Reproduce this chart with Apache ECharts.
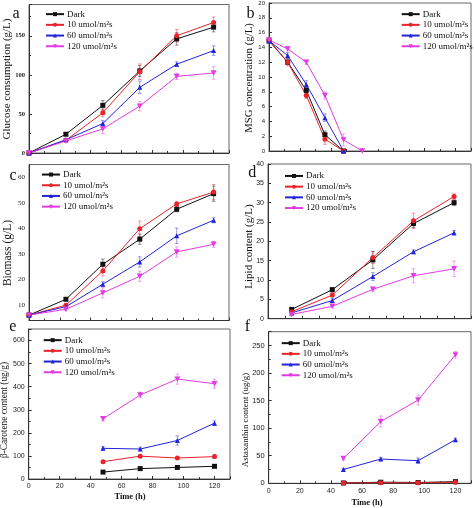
<!DOCTYPE html>
<html><head><meta charset="utf-8">
<script src="https://cdn.jsdelivr.net/npm/echarts@6/dist/echarts.min.js"></script>
<style>html,body{margin:0;padding:0;background:#fff}#c{width:474px;height:508px}</style>
</head><body><div id="c"></div>
<script>
// ---------- data ----------
const seriesNames = ['Dark', '10 umol/m\u00b2s', '60 umol/m\u00b2s', '120 umol/m\u00b2s'];

// (a) glucose consumption
const timeGlucose = [0, 24, 48, 72, 96, 120];
const glucoseDark = [0, 24, 61, 105, 146, 161];
const glucose10 = [0, 16.3, 51.4, 104, 150, 167];
const glucose60 = [0, 17, 37.7, 84, 113.6, 131];
const glucose120 = [0, 15.4, 30.9, 60, 98, 102.4];
const glucoseErrDark = [0, 1, 6, 7, 8, 6];
const glucoseErr10 = [0, 1, 5, 10, 8, 7];
const glucoseErr60 = [0, 1, 4, 8, 3, 6];
const glucoseErr120 = [0, 1, 6, 6, 4, 8];

// (b) MSG concentration
const timeMSG = [0, 12, 24, 36, 48];
const timeMSG120 = [0, 12, 24, 36, 48, 60];
const msgDark = [14.9, 12.0, 8.2, 2.2, 0];
const msg10 = [15.0, 12.0, 7.5, 1.6, 0];
const msg60 = [14.9, 12.9, 9.0, 4.5, 0];
const msg120 = [15.0, 13.8, 12.0, 7.5, 1.5, 0];
const msgErrDark = [0.3, 0.3, 0.4, 0.5, 0];
const msgErr10 = [0.3, 0.5, 0.4, 0.7, 0];
const msgErr60 = [0.3, 0.4, 0.5, 0.5, 0.2];
const msgErr120 = [0.3, 0.3, 0.3, 0.5, 0.8, 0];

// (c) biomass
const timeBiomass = [0, 24, 48, 72, 96, 120];
const biomassDark = [6.1, 12.3, 26.0, 35.8, 47.5, 53.6];
const biomass10 = [6.1, 10.0, 23.4, 39.9, 49.6, 54.2];
const biomass60 = [6.1, 9.4, 18.2, 26.9, 37.1, 43.2];
const biomass120 = [6.1, 8.4, 14.8, 21.3, 30.8, 33.8];
const biomassErrDark = [0, 0.6, 2, 2, 1, 3];
const biomassErr10 = [0, 0.6, 2, 3, 1, 3];
const biomassErr60 = [0, 0.6, 1, 2, 3, 1];
const biomassErr120 = [0, 0.6, 2, 2, 2, 1.2];

// (d) lipid content
const timeLipid = [24, 48, 72, 96, 120];
const lipidDark = [2.4, 7.5, 15.2, 24.6, 30.0];
const lipid10 = [1.8, 6.1, 15.8, 25.3, 31.6];
const lipid60 = [1.5, 4.7, 10.9, 17.3, 22.2];
const lipid120 = [1.1, 3.2, 7.6, 11.1, 12.9];
const lipidErrDark = [0.3, 0.5, 2.2, 1, 0.7];
const lipidErr10 = [0.3, 0.5, 1.5, 2, 0.7];
const lipidErr60 = [0.3, 0.5, 1, 0.5, 0.6];
const lipidErr120 = [0.3, 0.4, 0.5, 1.8, 2];

// (e) beta-carotene content
const timePigment = [48, 72, 96, 120];
const caroteneDark = [30, 45, 50, 55];
const carotene10 = [75, 99, 91, 97];
const carotene60 = [133, 130, 167, 242];
const carotene120 = [261, 364, 433, 413];
const caroteneErrDark = [3, 4, 4, 4];
const caroteneErr10 = [5, 5, 5, 8];
const caroteneErr60 = [8, 8, 20, 10];
const caroteneErr120 = [10, 12, 22, 20];

// (f) astaxanthin content
const astaDark = [0.6, 2, 1.5, 3];
const asta10 = [0.4, 1, 0.8, 2];
const asta60 = [25, 44, 41, 79];
const asta120 = [45, 112, 151, 233];
const astaErrDark = [0.5, 0.5, 0.5, 0.5];
const astaErr10 = [0.5, 0.5, 0.5, 0.5];
const astaErr60 = [2, 3, 5, 3];
const astaErr120 = [3, 10, 9, 6];

// ---------- style ----------
const colors = ['#111111', '#e8232a', '#2323d8', '#e23be2'];
const errColors = ['rgba(17,17,17,0.45)', 'rgba(232,35,42,0.45)', 'rgba(35,35,216,0.45)', 'rgba(226,59,226,0.45)'];
const symbols = ['rect', 'circle', 'triangle', 'path://M0,0L10,0L5,9Z'];
const SERIF = '"Liberation Serif", "DejaVu Serif", serif';
const SANS = '"Liberation Sans", Arial, sans-serif';

const panels = [
  { grid: {left: 29, top: 4.5, width: 200, height: 148.5},
    x: {min: 0, max: 130, interval: 20, labels: false},
    y: {min: 0, max: 190, interval: 50, minor: 2, step: 50, font: {fontFamily: SERIF, fontWeight: 'bold', fontSize: 6.5}},
    times: [timeGlucose, timeGlucose, timeGlucose, timeGlucose],
    vals: [glucoseDark, glucose10, glucose60, glucose120],
    errs: [glucoseErrDark, glucoseErr10, glucoseErr60, glucoseErr120],
    legend: {left: 45, top: 8.8} },
  { grid: {left: 269, top: 2.7, width: 202, height: 148.3},
    x: {min: 0, max: 130, interval: 20, labels: false},
    y: {min: 0, max: 20, interval: 2, minor: 0, step: 2, font: {fontFamily: SANS, fontSize: 6}},
    times: [timeMSG, timeMSG, timeMSG, timeMSG120],
    vals: [msgDark, msg10, msg60, msg120],
    errs: [msgErrDark, msgErr10, msgErr60, msgErr120],
    legend: {left: 400.7, top: 8.8} },
  { grid: {left: 29, top: 164.5, width: 200, height: 156},
    x: {min: 0, max: 130, interval: 20, labels: false},
    y: {min: 4, max: 65, interval: 2, minor: 0, step: 10, noTick: true, font: {fontFamily: SERIF, fontSize: 7}},
    times: [timeBiomass, timeBiomass, timeBiomass, timeBiomass],
    vals: [biomassDark, biomass10, biomass60, biomass120],
    errs: [biomassErrDark, biomassErr10, biomassErr60, biomassErr120],
    legend: {left: 41, top: 169.2} },
  { grid: {left: 268, top: 164, width: 203, height: 154.7},
    x: {min: 10, max: 130, interval: 10, labels: false},
    y: {min: 0, max: 40, interval: 5, minor: 0, step: 5, font: {fontFamily: SANS, fontSize: 7}},
    times: [timeLipid, timeLipid, timeLipid, timeLipid],
    vals: [lipidDark, lipid10, lipid60, lipid120],
    errs: [lipidErrDark, lipidErr10, lipidErr60, lipidErr120],
    legend: {left: 284, top: 170.6} },
  { grid: {left: 28.7, top: 329, width: 201.3, height: 150},
    x: {min: 0, max: 130, interval: 20, labels: true},
    y: {min: 0, max: 650, interval: 100, minor: 2, step: 100, font: {fontFamily: SANS, fontSize: 7}},
    times: [timePigment, timePigment, timePigment, timePigment],
    vals: [caroteneDark, carotene10, carotene60, carotene120],
    errs: [caroteneErrDark, caroteneErr10, caroteneErr60, caroteneErr120],
    legend: {left: 42.7, top: 334.8} },
  { grid: {left: 268.7, top: 331.7, width: 204, height: 151.6},
    x: {min: 0, max: 130, interval: 20, labels: true},
    y: {min: 0, max: 275, interval: 50, minor: 2, step: 50, font: {fontFamily: SANS, fontSize: 7.5}},
    times: [timePigment, timePigment, timePigment, timePigment],
    vals: [astaDark, asta10, asta60, asta120],
    errs: [astaErrDark, astaErr10, astaErr60, astaErr120],
    legend: {left: 280.7, top: 337.8} }
];

function errRender(color) {
  return function (params, api) {
    const x = api.value(0), lo = api.value(1), hi = api.value(2);
    const p1 = api.coord([x, hi]), p2 = api.coord([x, lo]);
    const w = 1.8;
    const st = {stroke: color, lineWidth: 1};
    return {type: 'group', children: [
      {type: 'line', shape: {x1: p1[0], y1: p1[1], x2: p2[0], y2: p2[1]}, style: st},
      {type: 'line', shape: {x1: p1[0] - w, y1: p1[1], x2: p1[0] + w, y2: p1[1]}, style: st},
      {type: 'line', shape: {x1: p2[0] - w, y1: p2[1], x2: p2[0] + w, y2: p2[1]}, style: st}
    ]};
  };
}

const grid = [], xAxis = [], yAxis = [], series = [], legend = [];
const axisColor = '#333';
panels.forEach((p, gi) => {
  grid.push(Object.assign({show: true, borderColor: '#666', borderWidth: 1, containLabel: false}, p.grid));
  xAxis.push({
    type: 'value', gridIndex: gi, min: p.x.min, max: p.x.max, interval: p.x.interval,
    axisLine: {show: true, onZero: false, lineStyle: {color: axisColor, width: 1}},
    axisTick: {show: true, inside: true, length: 3, lineStyle: {color: axisColor}},
    minorTick: {show: p.x.interval === 20, splitNumber: 2, length: 2, lineStyle: {color: axisColor}},
    splitLine: {show: false},
    axisLabel: {show: p.x.labels, margin: 4, fontFamily: SANS, fontSize: 7, color: '#222',
      formatter: (v) => (v % 20 === 0 && v <= 120) ? String(v) : ''}
  });
  yAxis.push({
    type: 'value', gridIndex: gi, min: p.y.min, max: p.y.max, interval: p.y.interval,
    axisLine: {show: true, onZero: false, lineStyle: {color: axisColor, width: 1}},
    axisTick: {show: !p.y.noTick, inside: true, length: 3, lineStyle: {color: axisColor}},
    minorTick: {show: p.y.minor > 0, splitNumber: p.y.minor || 2, length: 2, lineStyle: {color: axisColor}},
    splitLine: {show: false},
    axisLabel: Object.assign({margin: 4, color: '#222',
      formatter: (v) => (Math.abs(v % p.y.step) < 1e-6 && v <= p.y.max - (p.y.max % p.y.step)) ? String(v) : ''}, p.y.font)
  });
  for (let k = 0; k < 4; k++) {
    const t = p.times[k], v = p.vals[k], e = p.errs[k];
    series.push({
      type: 'custom', name: 'err' + gi + '_' + k, xAxisIndex: gi, yAxisIndex: gi, z: 1,
      renderItem: errRender(errColors[k]),
      data: t.map((x, i) => [x, v[i] - e[i], v[i] + e[i]]),
      silent: true
    });
    series.push({
      type: 'line', name: seriesNames[k], xAxisIndex: gi, yAxisIndex: gi, z: 3,
      data: t.map((x, i) => [x, v[i]]),
      symbol: symbols[k], symbolSize: k === 3 ? [6, 5.4] : 5,
      itemStyle: {color: colors[k]}, lineStyle: {color: colors[k], width: 1},
      animation: false
    });
  }
  legend.push({
    data: seriesNames, orient: 'vertical', left: p.legend.left, top: p.legend.top, padding: 0,
    itemWidth: 18, itemHeight: 5, itemGap: 0, selectedMode: false,
    textStyle: {fontFamily: SERIF, fontSize: 9, lineHeight: 10.7, color: '#111', padding: [0, 0, 0, -2]}
  });
});

const titleFont = (sz) => sz + 'px ' + SERIF;
const graphic = [];
function addText(x, y, text, font, rot, weight) {
  graphic.push({type: 'text', x: x, y: y, rotation: rot || 0, silent: true,
    style: {text: text, font: (weight ? weight + ' ' : '') + font, fill: '#111', textAlign: 'center', textVerticalAlign: 'middle'}});
}
// y-axis titles
addText(7.5, 79, 'Glucose consumption (g/L)', titleFont(11), Math.PI / 2);
addText(249, 78, 'MSG concentration (g/L)', titleFont(10.8), Math.PI / 2);
addText(7.5, 253, 'Biomass (g/L)', titleFont(11.5), Math.PI / 2);
addText(249, 246.5, 'Lipid content (g/L)', titleFont(11), Math.PI / 2);
addText(5, 410, '\u03b2-Carotene content (ug/g)', titleFont(9.3), Math.PI / 2);
addText(246, 420, 'Astaxanthin content (ug/g)', titleFont(8.8), Math.PI / 2);
// x-axis titles
addText(130, 497, 'Time (h)', titleFont(8.5), 0, 'bold');
addText(367, 502.5, 'Time (h)', titleFont(8.5), 0, 'bold');
// panel letters
addText(16, 14, 'a', titleFont(16));
addText(250.5, 14, 'b', titleFont(16));
addText(13, 176, 'c', titleFont(16));
addText(252.3, 173, 'd', titleFont(16));
addText(12.7, 327, 'e', titleFont(16));
addText(247.3, 327, 'f', titleFont(16));

const chart = echarts.init(document.getElementById('c'), null, {renderer: 'canvas'});
chart.setOption({animation: false, backgroundColor: '#fff', grid, xAxis, yAxis, series, legend, graphic});
</script>
</body></html>
